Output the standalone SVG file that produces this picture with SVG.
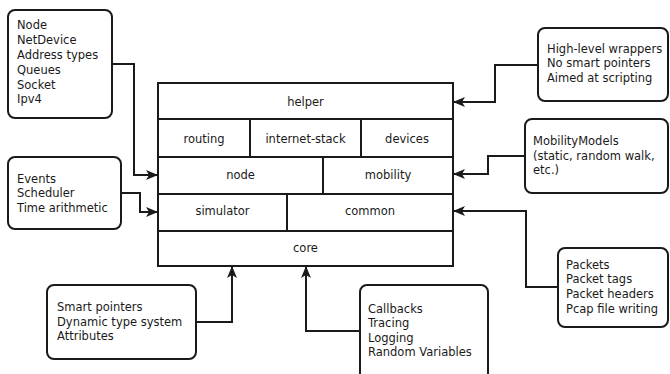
<svg xmlns="http://www.w3.org/2000/svg" width="670" height="374" viewBox="0 0 670 374">
<style>
text{font-family:"DejaVu Sans","Liberation Sans",sans-serif;font-size:11.5px;fill:#1a1a1a}
.c{text-anchor:middle}
.box{fill:#fff;stroke:#1a1a1a;stroke-width:2}
.cell{fill:#fff;stroke:#1a1a1a;stroke-width:2}
.conn{fill:none;stroke:#1a1a1a;stroke-width:2}
</style>
<defs>
<marker id="arr" viewBox="0 0 12 10" refX="11" refY="5" markerWidth="12" markerHeight="10" orient="auto" markerUnits="userSpaceOnUse">
<path d="M0,0 L12,5 L0,10 L3,5 Z" fill="#1a1a1a"/>
</marker>
</defs>
<g id="stack">
<g id="helper"><rect class="cell" x="158" y="83" width="295" height="36"/><text class="c" x="305.5" y="106">helper</text></g>
<g id="routing"><rect class="cell" x="158" y="119" width="92" height="38"/><text class="c" x="204" y="143">routing</text></g>
<g id="internet-stack"><rect class="cell" x="250" y="119" width="111" height="38"/><text class="c" x="305.5" y="143">internet-stack</text></g>
<g id="devices"><rect class="cell" x="361" y="119" width="92" height="38"/><text class="c" x="407" y="143">devices</text></g>
<g id="node"><rect class="cell" x="158" y="157" width="165" height="37"/><text class="c" x="240.5" y="179">node</text></g>
<g id="mobility"><rect class="cell" x="323" y="157" width="130" height="37"/><text class="c" x="388" y="179">mobility</text></g>
<g id="simulator"><rect class="cell" x="158" y="194" width="129" height="37"/><text class="c" x="222.5" y="215">simulator</text></g>
<g id="common"><rect class="cell" x="287" y="194" width="166" height="37"/><text class="c" x="370" y="215">common</text></g>
<g id="core"><rect class="cell" x="158" y="231" width="295" height="35"/><text class="c" x="305.5" y="252">core</text></g>
</g>
<g id="connectors">
<path class="conn" d="M112,64 H134 V175 H157" marker-end="url(#arr)"/>
<path class="conn" d="M121,193 H140 V212 H157" marker-end="url(#arr)"/>
<path class="conn" d="M196,322 H232 V267" marker-end="url(#arr)"/>
<path class="conn" d="M360,331 H306 V267" marker-end="url(#arr)"/>
<path class="conn" d="M538,65 H495 V102 H454" marker-end="url(#arr)"/>
<path class="conn" d="M525,156 H488 V174 H454" marker-end="url(#arr)"/>
<path class="conn" d="M558,287 H526 V211 H454" marker-end="url(#arr)"/>
</g>
<g id="box-netdevice">
<rect class="box" x="8" y="10" width="104" height="108" rx="7"/>
<text x="17" y="29">Node</text>
<text x="17" y="44">NetDevice</text>
<text x="17" y="59">Address types</text>
<text x="17" y="74">Queues</text>
<text x="17" y="89">Socket</text>
<text x="17" y="103">Ipv4</text>
</g>
<g id="box-events">
<rect class="box" x="8" y="157" width="113" height="72" rx="7"/>
<text x="17" y="183">Events</text>
<text x="17" y="197">Scheduler</text>
<text x="17" y="212">Time arithmetic</text>
</g>
<g id="box-smart">
<rect class="box" x="47" y="285" width="149" height="74" rx="7"/>
<text x="57" y="311">Smart pointers</text>
<text x="57" y="326">Dynamic type system</text>
<text x="57" y="340">Attributes</text>
</g>
<g id="box-callbacks">
<rect class="box" x="360" y="285" width="128" height="96" rx="7"/>
<text x="368" y="313">Callbacks</text>
<text x="368" y="327">Tracing</text>
<text x="368" y="342">Logging</text>
<text x="368" y="356">Random Variables</text>
</g>
<g id="box-helper">
<rect class="box" x="538" y="28" width="130" height="73" rx="7"/>
<text x="547" y="53">High-level wrappers</text>
<text x="547" y="67">No smart pointers</text>
<text x="547" y="82">Aimed at scripting</text>
</g>
<g id="box-mobility">
<rect class="box" x="525" y="119" width="143" height="74" rx="7"/>
<text x="533" y="145">MobilityModels</text>
<text x="533" y="160">(static, random walk,</text>
<text x="533" y="174">etc.)</text>
</g>
<g id="box-packets">
<rect class="box" x="558" y="248" width="110" height="79" rx="7"/>
<text x="566" y="269">Packets</text>
<text x="566" y="283">Packet tags</text>
<text x="566" y="298">Packet headers</text>
<text x="566" y="313">Pcap file writing</text>
</g>
</svg>
